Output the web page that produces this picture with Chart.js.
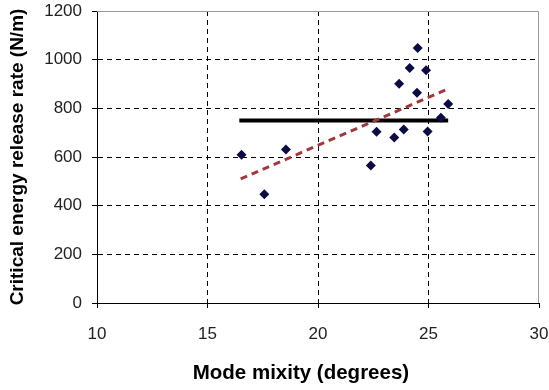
<!DOCTYPE html>
<html>
<head>
<meta charset="utf-8">
<script src="https://cdn.jsdelivr.net/npm/chart.js@4/dist/chart.umd.min.js"></script>
<style>
  html, body { margin: 0; padding: 0; background: #fff; }
  #wrap { width: 549px; height: 390px; }
</style>
</head>
<body>
<div id="wrap"><canvas id="c" width="549" height="390"></canvas></div>
<script>
// Measured data points
const modeMixity = [16.54, 17.57, 18.55, 22.39, 22.65, 23.45, 23.67, 23.88, 24.15, 24.51, 24.48, 24.89, 24.96, 25.56, 25.89];
const energyRate = [609, 447, 631, 565, 704, 680, 901, 713, 966, 1048, 864, 956, 705, 761, 818];
// Mean (horizontal) line
const meanX = [16.44, 25.89];
const meanY = [750, 750];
// Linear trend line
const trendX = [16.5, 25.89];
const trendY = [510, 880];
// Axis ranges / tick steps
const xRange = [10, 30];
const xStep = 5;
const yRange = [0, 1200];
const yStep = 200;
const xTitle = 'Mode mixity (degrees)';
const yTitle = 'Critical energy release rate (N/m)';

const toPts = (xs, ys) => xs.map((x, i) => ({ x: x, y: ys[i] }));

const frame = {
  id: 'frame',
  beforeDatasetsDraw(chart) {
    const a = chart.chartArea, ctx = chart.ctx;
    ctx.save();
    ctx.strokeStyle = '#9a9a9a';
    ctx.lineWidth = 1;
    ctx.beginPath();
    ctx.moveTo(a.left, a.top + 0.5);
    ctx.lineTo(a.right - 0.5, a.top + 0.5);
    ctx.lineTo(a.right - 0.5, a.bottom);
    ctx.stroke();
    ctx.restore();
  }
};

const gridColor = (edgeVals) => (ctx) => {
  const v = ctx.tick ? ctx.tick.value : null;
  return edgeVals.includes(v) ? 'rgba(0,0,0,0)' : '#000';
};

new Chart(document.getElementById('c'), {
  type: 'scatter',
  data: {
    datasets: [
      {
        label: 'data',
        data: toPts(modeMixity, energyRate),
        pointStyle: 'rectRot',
        pointRadius: 5,
        pointBackgroundColor: '#0c0c44',
        pointBorderColor: '#0c0c44',
        pointBorderWidth: 0,
        showLine: false,
        order: 0
      },
      {
        label: 'trend',
        type: 'line',
        data: toPts(trendX, trendY),
        borderColor: '#a3383c',
        borderWidth: 3,
        borderDash: [7, 5],
        pointRadius: 0,
        fill: false,
        order: 1
      },
      {
        label: 'mean',
        type: 'line',
        data: toPts(meanX, meanY),
        borderColor: '#000',
        borderWidth: 4,
        pointRadius: 0,
        fill: false,
        order: 2
      }
    ]
  },
  options: {
    responsive: false,
    devicePixelRatio: 1,
    animation: false,
    layout: { padding: { top: 11, right: 10, left: 0, bottom: 0 } },
    plugins: { legend: { display: false }, tooltip: { enabled: false } },
    scales: {
      x: {
        type: 'linear',
        min: xRange[0], max: xRange[1],
        afterFit(s) { s.height = 87; s.paddingRight = 0; s.paddingLeft = 0; },
        ticks: { stepSize: xStep, color: '#222', padding: 16, maxRotation: 0,
                 callback: (v) => String(v),
                 font: { family: 'Liberation Sans, Arial', size: 17 } },
        grid: { color: gridColor(xRange), lineWidth: 1, tickLength: 5, tickColor: '#000',
                drawTicks: true },
        border: { color: '#000', width: 1, dash: [5, 4] },
        title: { display: true, text: xTitle + '\u00a0\u00a0\u00a0\u00a0\u00a0\u00a0', color: '#000',
                 padding: { top: 4, bottom: 4 },
                 font: { family: 'Liberation Sans, Arial', size: 20.5, weight: 'bold' } }
      },
      y: {
        type: 'linear',
        min: yRange[0], max: yRange[1],
        afterFit(s) { s.width = 97; s.paddingTop = 0; s.paddingBottom = 0; },
        ticks: { stepSize: yStep, color: '#222', padding: 10,
                 callback: (v) => String(v),
                 font: { family: 'Liberation Sans, Arial', size: 17 } },
        grid: { color: gridColor(yRange), lineWidth: 1, tickLength: 5, tickColor: '#000' },
        border: { color: '#000', width: 1, dash: [5, 4] },
        title: { display: true, text: yTitle, color: '#000', padding: { top: 6, bottom: 4 },
                 font: { family: 'Liberation Sans, Arial', size: 19, weight: 'bold' } }
      }
    }
  },
  plugins: [frame]
});
</script>
</body>
</html>
